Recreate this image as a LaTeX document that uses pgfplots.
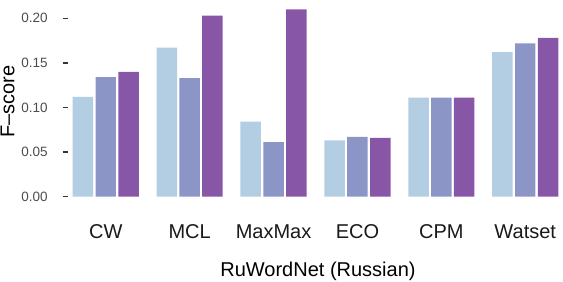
\documentclass[border=0pt]{standalone}
\usepackage{fontspec}
\setmainfont{Liberation Sans}
\usepackage{pgfplots}
\pgfplotsset{compat=1.18}
\definecolor{cA}{HTML}{B3CDE3}
\definecolor{cB}{HTML}{8C96C6}
\definecolor{cC}{HTML}{8856A7}
\definecolor{tickc}{HTML}{333333}
\definecolor{labc}{HTML}{4D4D4D}
\begin{document}
\begin{tikzpicture}
\begin{axis}[
  at={(0,0)}, anchor=south west,
  scale only axis, width=495bp, height=206bp,
  xmin=-0.45, xmax=5.45, ymin=-0.0105, ymax=0.2205,
  axis line style={draw=none},
  ybar, bar width=0.244,
  xtick={0,1,2,3,4,5},
  xticklabels={CW,MCL,MaxMax,ECO,CPM,Watset},
  ytick={0,0.05,0.1,0.15,0.2},
  yticklabels={0.00,0.05,0.10,0.15,0.20},
  yticklabel style={anchor=east, inner sep=0pt, xshift=-14.7bp, text=labc, font=\fontsize{13.5bp}{16bp}\selectfont},
  xticklabel style={anchor=base, inner sep=0pt, yshift=-27.3bp, text=black!90, font=\fontsize{20bp}{24bp}\selectfont},
  tick align=outside, major tick length=5.5bp,
  ytick style={draw=tickc, line width=1.4bp},
  xtick style={draw=none},
  clip=false,
]
\addplot[fill=cA, draw=none, bar shift=-0.272] coordinates {(0,0.112) (1,0.167) (2,0.084) (3,0.063) (4,0.111) (5,0.162)};
\addplot[fill=cB, draw=none, bar shift=0] coordinates {(0,0.134) (1,0.133) (2,0.061) (3,0.067) (4,0.111) (5,0.172)};
\addplot[fill=cC, draw=none, bar shift=0.272] coordinates {(0,0.140) (1,0.203) (2,0.210) (3,0.066) (4,0.111) (5,0.178)};
\end{axis}
\node[rotate=90, anchor=base, inner sep=0pt, font=\fontsize{20bp}{24bp}\selectfont] at (-53.5bp,104.5bp) {F--score};
\node[anchor=base, inner sep=0pt, font=\fontsize{20bp}{24bp}\selectfont] at (250bp,-70.7bp) {RuWordNet (Russian)};
\pgfresetboundingbox
\path[use as bounding box] (-68bp,-76bp) rectangle (495bp,206bp);
\end{tikzpicture}
\end{document}
